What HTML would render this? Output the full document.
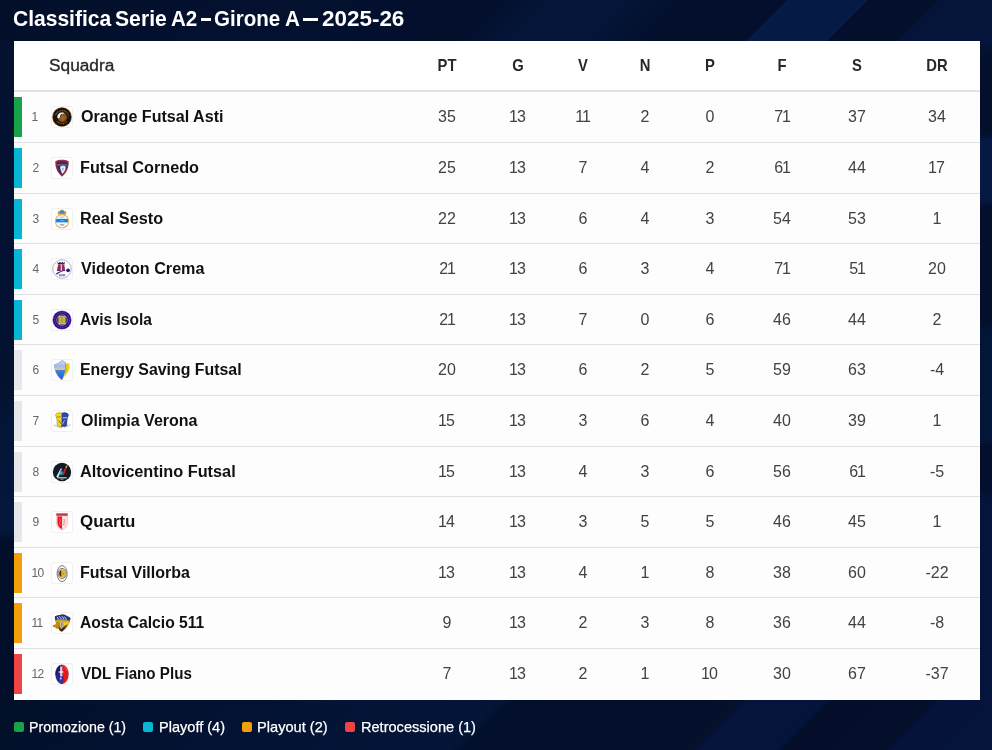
<!DOCTYPE html>
<html lang="it"><head><meta charset="utf-8"><title>Classifica Serie A2</title>
<style>
*{box-sizing:border-box;margin:0;padding:0}
html,body{width:992px;height:750px;overflow:hidden}
body{will-change:transform;position:relative;background:#030f2b;font-family:"Liberation Sans",sans-serif;color:#fff}
.bg{position:absolute;left:0;top:0;width:992px;height:750px;background:#03112e}
.bgt{position:absolute;left:0;top:0;width:992px;height:41px;background:linear-gradient(135deg,#020e27 0.00%,#03102c 7.74%,#03112f 29.04%,#030f2b 47.92%,#051538 52.76%,#051538 60.99%,#030f2b 66.80%,#030f2b 76.09%,#051a45 76.28%,#051a45 83.93%,#030f2b 84.12%,#030f2b 90.61%,#05153a 91.00%,#05153a 100.00%)}
.bgb{position:absolute;left:0;top:700px;width:992px;height:50px;background:linear-gradient(135deg,#021028 0.00%,#03112f 11.52%,#031334 28.79%,#031538 47.98%,#03102c 49.14%,#030f2b 67.18%,#04102c 71.11%,#04143a 71.88%,#04153b 79.17%,#040e2a 79.94%,#040f2c 89.73%,#05133a 90.31%,#06153c 100.00%)}
.bgr{position:absolute;left:980px;top:41px;width:12px;height:659px;background:linear-gradient(180deg,#05153a 0.00%,#04112f 1.52%,#030f2b 3.80%,#030f2b 13.98%,#051943 15.20%,#051943 24.01%,#030f2b 25.23%,#030f2b 42.55%,#04153a 44.07%,#04153a 60.49%,#030f2c 61.55%,#030f2c 68.09%,#04143a 69.30%,#04143a 100.00%)}
.bgl{position:absolute;left:0;top:41px;width:14px;height:659px;background:linear-gradient(180deg,#031231 0.00%,#031233 39.45%,#03122e 51.59%,#03163a 59.18%,#02183c 74.36%,#020f2b 75.87%,#020f2b 100.00%)}
.fx{position:absolute;display:block;white-space:nowrap;transform-origin:0 50%}
.title{position:absolute;left:0;top:7px;width:992px;height:24px;font-size:21.5px;line-height:24px;font-weight:700;color:#fff}
.tw{top:0}
.dash{position:absolute;display:block;top:11.1px;height:2.8px;background:#fff;color:transparent;overflow:hidden;font-size:1px;line-height:1px}
.table{position:absolute;left:14px;top:41px;width:966px;height:659px;background:#fdfdfd}
.thead{position:absolute;left:0;top:0;width:966px;height:51px;background:#fff;border-bottom:2px solid #e1e2e4}
.hsq{top:15px;font-size:16px;line-height:20px;color:#26282c;font-weight:400;-webkit-text-stroke:0.3px #26282c}
.h{position:absolute;top:15px;width:60px;text-align:center;font-size:17px;line-height:20px;color:#26282c;font-weight:700;transform:scaleX(0.87)}
.row{position:absolute;left:0;width:966px;border-bottom:1px solid #dfe0e2;background:#fdfdfd}
.row.last{border-bottom:none}
.bar{position:absolute;left:0;top:5px;width:8px;height:40px;display:block}
.g{background:#16a34a}.b{background:#06b6d4}.o{background:#f59e0b}.r{background:#ef4444}.n{background:#e5e7eb}
.rk{position:absolute;left:18.5px;top:18px;font-size:12px;line-height:14px;color:#666}
.lg{position:absolute;left:37px;top:14px;width:22px;height:22px;border:1px solid #f0f0f3;border-radius:3px;background:#fff;display:block}
.lg svg{display:block;width:20px;height:20px}
.nm{top:15px;font-size:16px;line-height:20px;font-weight:700;color:#111}
.v b{font-weight:inherit;margin:0 -1.1px}
.rk b{font-weight:inherit;margin:0 -.9px}
.v{position:absolute;top:15px;width:60px;text-align:center;font-size:16px;line-height:20px;color:#424242}
.legend{position:absolute;left:0;top:717px;width:992px;height:20px;font-size:15px;line-height:20px;color:#fff}
.lt{top:0;-webkit-text-stroke:.25px #fff}
.sq{position:absolute;top:5px;display:block;width:10px;height:10px;border-radius:2px}

</style></head>
<body>
<div class="bg"><div class="bgt"></div><div class="bgb"></div><div class="bgl"></div><div class="bgr"></div></div>
<h1 class="title"><span class="fx tw" id="t1" style="left:12.76px;transform:scaleX(0.9781)">Classifica</span> <span class="fx tw" id="t2" style="left:114.93px;transform:scaleX(0.9846)">Serie</span> <span class="fx tw" id="t3" style="left:170.50px;transform:scaleX(0.9566)">A2</span> <span class="dash" style="left:200.7px;width:10.3px">–</span> <span class="fx tw" id="t5" style="left:214.45px;transform:scaleX(0.9566)">Girone</span> <span class="fx tw" id="t6" style="left:284.68px;transform:scaleX(0.9612)">A</span> <span class="dash" style="left:303.3px;width:14.9px">—</span> <span class="fx tw" id="t8" style="left:321.87px;transform:scaleX(1.0437)">2025-26</span> </h1>
<div class="table">
<div class="thead"><span class="fx hsq" id="sq" style="left:34.84px;transform:scaleX(1.0802)">Squadra</span><span class="h" style="left:403px">PT</span><span class="h" style="left:474px">G</span><span class="h" style="left:539px">V</span><span class="h" style="left:601px">N</span><span class="h" style="left:666px">P</span><span class="h" style="left:738px">F</span><span class="h" style="left:813px">S</span><span class="h" style="left:893px">DR</span></div>
<div class="row" style="top:51px;height:51px"><i class="bar g"></i><span class="rk"><b>1</b></span><span class="lg"><svg viewBox="0 0 20 20"><defs><radialGradient id="o1" cx=".55" cy=".6" r=".6"><stop offset="0" stop-color="#b8661a"/><stop offset=".7" stop-color="#8a4a10"/><stop offset="1" stop-color="#3a2008"/></radialGradient></defs><circle cx="10" cy="10" r="9.800" fill="#9a5a1a"/><circle cx="10" cy="10" r="9.200" fill="#1c1209"/><path d="M3.500 8.300A6.900 6.900 0 0 1 16.400 7.800" fill="none" stroke="#8d8478" stroke-width="1.300" stroke-dasharray="1 .7" opacity=".75"/><path d="M5 14.300A6.900 6.900 0 0 0 15 14.300" fill="none" stroke="#8d8478" stroke-width="1.200" stroke-dasharray="1 .6" opacity=".8"/><circle cx="10.200" cy="10.100" r="4.900" fill="url(#o1)"/><path d="M5.300 9.900c0-2.700 2.200-4.600 4.700-4.500 1.300 0 2.300.5 3 1.200-1.500 0-2.700.6-3.500 1.700-.700 1.100-1 2.300-2.200 2.900-1.200.5-2-.2-2-1.300z" fill="#f5f2ec"/><path d="M7.600 10.400l1.300-3.100 1.900-.8-1.400 1.800-.8 2.300z" fill="#20203a"/><path d="M15.500 6.300c.9 1.600 1.100 3.500.6 5.200" fill="none" stroke="#1d2c50" stroke-width="1.200"/></svg></span><span class="fx nm" id="n1" style="left:66.51px;transform:scaleX(1.0057)">Orange Futsal Asti</span><span class="v" style="left:403px">35</span><span class="v" style="left:474px"><b>1</b>3</span><span class="v" style="left:539px"><b>1</b><b>1</b></span><span class="v" style="left:601px">2</span><span class="v" style="left:666px">0</span><span class="v" style="left:738px">7<b>1</b></span><span class="v" style="left:813px">37</span><span class="v" style="left:893px">34</span></div>
<div class="row" style="top:102px;height:51px"><i class="bar b"></i><span class="rk">2</span><span class="lg"><svg viewBox="0 0 20 20"><path d="M3.300 3.300C5.500 2.200 7.800 1.800 10 1.800s4.500.4 6.700 1.500c.3 5.600-1.600 11.300-6.700 15.400C4.900 14.600 3 8.900 3.300 3.300z" fill="#a32a3e"/><path d="M4.700 4.400c1.800-.8 3.500-1.100 5.300-1.100s3.500.3 5.300 1.100c.1 4.600-1.400 9.100-5.300 12.500C6.100 13.500 4.600 9 4.700 4.400z" fill="#2d2f66"/><path d="M5.300 6.300h9.400v1.300H5.300z" fill="#8d7fae" opacity=".8"/><path d="M8.800 8.200c1.600-.9 3.700-.6 4.800.4.300 2.300-.6 5.200-3.100 7.300-1-1-1.400-2-1.300-3.100-.7-.6-1-1.300-.8-2.200-.5-.9-.300-1.800.4-2.400z" fill="#e9ebf4"/><path d="M10.300 10.200l1.800-.6-.6 1.500-.2 1.700-1.200-.8z" fill="#9aa0c4"/></svg></span><span class="fx nm" id="n2" style="left:66.15px;transform:scaleX(1.0140)">Futsal Cornedo</span><span class="v" style="left:403px">25</span><span class="v" style="left:474px"><b>1</b>3</span><span class="v" style="left:539px">7</span><span class="v" style="left:601px">4</span><span class="v" style="left:666px">2</span><span class="v" style="left:738px">6<b>1</b></span><span class="v" style="left:813px">44</span><span class="v" style="left:893px"><b>1</b>7</span></div>
<div class="row" style="top:153px;height:50px"><i class="bar b"></i><span class="rk">3</span><span class="lg"><svg viewBox="0 0 20 20"><path d="M5.800 4.700c-.6-1.500.5-2.700 1.800-2.600.6-1 1.500-1.400 2.400-1.400s1.800.4 2.400 1.400c1.300-.1 2.400 1.100 1.800 2.600-.3.900-.9 1.400-1.400 1.700H7.200c-.5-.3-1.100-.8-1.400-1.700z" fill="#c8a04a"/><path d="M7.700 2.800c.6-.9 1.400-1.300 2.300-1.300s1.700.4 2.300 1.300c.2.700.1 1.300-.3 1.800H8c-.4-.5-.5-1.100-.3-1.800z" fill="#3f86c9"/><circle cx="10" cy="12.300" r="7.200" fill="#e2b85c"/><circle cx="10" cy="12.300" r="6.100" fill="#fdfdfb"/><path d="M4.400 10h11.200c.5 1.100.6 2.400.3 3.600H4.100c-.3-1.200-.2-2.500.3-3.600z" fill="#1d7fe3"/><path d="M4.700 9.300h10.600l.3.700H4.400z" fill="#bfe3f7"/><path d="M4.100 13.600h11.800l-.2.700H4.300z" fill="#bfe3f7"/><path d="M7.700 8.100h4.600" stroke="#c9607a" stroke-width=".6"/><path d="M7.800 15.900h4.400" stroke="#34406e" stroke-width=".7"/><path d="M8 11.700h4" stroke="#8cc4f2" stroke-width=".6"/></svg></span><span class="fx nm" id="n3" style="left:66.18px;transform:scaleX(1.0153)">Real Sesto</span><span class="v" style="left:403px">22</span><span class="v" style="left:474px"><b>1</b>3</span><span class="v" style="left:539px">6</span><span class="v" style="left:601px">4</span><span class="v" style="left:666px">3</span><span class="v" style="left:738px">54</span><span class="v" style="left:813px">53</span><span class="v" style="left:893px"><b>1</b></span></div>
<div class="row" style="top:203px;height:51px"><i class="bar b"></i><span class="rk">4</span><span class="lg"><svg viewBox="0 0 20 20"><circle cx="10" cy="10" r="9.300" fill="#fdfdff" stroke="#9496a6" stroke-width=".7"/><path d="M5.300 2.900l1.400 1 1.100-1.100 1.300 1.100 1.200-1.100 1.200 1.100 1.400-1.100-.5 2.800H5.900z" fill="#26276e"/><path d="M6.200 5.500h6l.9 6.500H4.800z" fill="#d8344c"/><path d="M6 6.900h6.400M5.700 8.500h7M5.400 10.100h7.500M5.100 11.600h8" stroke="#2a2c7a" stroke-width=".75"/><path d="M8.800 5.500h1v6.500h-1z" fill="#f4f4fa"/><path d="M3.900 14.700c2.600-2.300 6.600-3.600 10.800-3.400-3.400.4-7.100 2-10 4.400z" fill="#2a2c7a"/><circle cx="16.100" cy="11.300" r="1.900" fill="#1f2670"/><path d="M6.900 14.900h6.400v2.600H6.900z" fill="#c4c6e2"/><path d="M7.600 15.300v1.800M8.900 15.300v1.800M10.200 15.300v1.800M11.500 15.300v1.800M12.600 15.300v1.800" stroke="#4a4c8c" stroke-width=".55"/></svg></span><span class="fx nm" id="n4" style="left:67.07px;transform:scaleX(1.0084)">Videoton Crema</span><span class="v" style="left:403px">2<b>1</b></span><span class="v" style="left:474px"><b>1</b>3</span><span class="v" style="left:539px">6</span><span class="v" style="left:601px">3</span><span class="v" style="left:666px">4</span><span class="v" style="left:738px">7<b>1</b></span><span class="v" style="left:813px">5<b>1</b></span><span class="v" style="left:893px">20</span></div>
<div class="row" style="top:254px;height:50px"><i class="bar b"></i><span class="rk">5</span><span class="lg"><svg viewBox="0 0 20 20"><circle cx="10" cy="10" r="9.600" fill="#8a7ae0"/><circle cx="10" cy="10" r="9.100" fill="#2a0b80"/><circle cx="10" cy="10" r="7.300" fill="none" stroke="#8f7fd0" stroke-width=".8" stroke-dasharray=".9 .9"/><ellipse cx="10" cy="10.100" rx="5.300" ry="5.300" fill="#2a0b80" stroke="#d9c66e" stroke-width=".6"/><path d="M6.500 6.300h7v7.800h-7z" fill="#ebdc62"/><path d="M7.800 6.100v8.200M9.100 6.100v8.200M10.900 6.100v8.200M12.200 6.100v8.200" stroke="#6a5a22" stroke-width=".5"/><path d="M9.100 8h1.800M9.100 10h1.800M9.100 12h1.800" stroke="#6a5a22" stroke-width=".55"/><path d="M6.500 6.300h7M6.500 14.100h7" stroke="#fff7a8" stroke-width=".4"/></svg></span><span class="fx nm" id="n5" style="left:66.06px;transform:scaleX(0.9708)">Avis Isola</span><span class="v" style="left:403px">2<b>1</b></span><span class="v" style="left:474px"><b>1</b>3</span><span class="v" style="left:539px">7</span><span class="v" style="left:601px">0</span><span class="v" style="left:666px">6</span><span class="v" style="left:738px">46</span><span class="v" style="left:813px">44</span><span class="v" style="left:893px">2</span></div>
<div class="row" style="top:304px;height:51px"><i class="bar n"></i><span class="rk">6</span><span class="lg"><svg viewBox="0 0 20 20"><defs><linearGradient id="e6" x1="0" y1="0" x2="0" y2="1"><stop offset="0" stop-color="#d3def6"/><stop offset=".36" stop-color="#9fb6e6"/><stop offset=".54" stop-color="#3f7fdf"/><stop offset="1" stop-color="#1a5fd6"/></linearGradient></defs><path d="M12.800 2.900c1.600.5 3 .6 4.900.2-.4 1.700-.4 2.900.3 4.300-.6 1.500-1.400 2.800-1.800 4.400-1 1.900-2.300 3.700-3.900 5.400l.5-4.700z" fill="#f6da1e"/><path d="M13.400 3.900l2.500.4-.5 3.300.8 1.700-1.800 3.300-1.900 4.200z" fill="#dcb410" opacity=".65"/><path d="M10.300.1c1 1.100 2 1.900 3.100 2.500.4 3.900 0 7-.6 9.400-.7 2.700-1.500 5.300-2.700 7.800C5.800 17 2.700 11.300 2.400 4.700 5.500 4.100 8.300 2.400 10.300.1z" fill="url(#e6)" stroke="#5a67a4" stroke-width=".45"/><path d="M2.600 7h10.600l-.2 3H3.200z" fill="#b4b7c0"/><path d="M2.800 8h10.300M3 9.200h10" stroke="#efe48c" stroke-width=".55"/></svg></span><span class="fx nm" id="n6" style="left:66.16px;transform:scaleX(0.9931)">Energy Saving Futsal</span><span class="v" style="left:403px">20</span><span class="v" style="left:474px"><b>1</b>3</span><span class="v" style="left:539px">6</span><span class="v" style="left:601px">2</span><span class="v" style="left:666px">5</span><span class="v" style="left:738px">59</span><span class="v" style="left:813px">63</span><span class="v" style="left:893px">-4</span></div>
<div class="row" style="top:355px;height:51px"><i class="bar n"></i><span class="rk">7</span><span class="lg"><svg viewBox="0 0 20 20"><path d="M1.300 14.300c2.300 1.900 5.400 2.600 8.700 2.600s6.400-.7 8.700-2.600l-.5-1.400c-2.300 1.500-5.200 2.200-8.200 2.200s-5.900-.7-8.200-2.200z" fill="#d4d4da"/><path d="M3.500 3.600c.6-1 1.500-1.600 2.300-1.500.6-.7 1.600-.8 2.300-.3.700-.3 1.500-.1 1.900.4v13.900c-1.500-.1-3.400-.7-4.900-1.700.2-3-.1-5.400-.5-7.400-.4-1.100-.9-2.200-1.100-3.400z" fill="#f1da16" stroke="#8a7f1a" stroke-width=".5"/><path d="M16.500 3.600c-.6-1-1.500-1.600-2.300-1.500-.6-.7-1.600-.8-2.300-.3-.7-.3-1.500-.1-1.900.4v13.900c1.500-.1 3.400-.7 4.900-1.700-.2-3 .1-5.400.5-7.400.4-1.100.9-2.200 1.100-3.400z" fill="#2c46b4" stroke="#1c2c7c" stroke-width=".5"/><path d="M4.600 5.400h4.900v1.100H4.600z" fill="#a8961a"/><path d="M10.500 6.300h4.600v1H10.500z" fill="#c8cce0"/><path d="M6.700 9.500l2.800 3.700.5 2.900" fill="none" stroke="#5a4a14" stroke-width=".8"/><path d="M12.500 9.300l-2.200 4.200" fill="none" stroke="#e8d9b0" stroke-width=".8"/><path d="M9.200 15.500c.6.500 1.900.6 3 .1l-.6 1.300H9.700z" fill="#fff"/><path d="M8.600 15.700l1.100 1.700" stroke="#a07c48" stroke-width=".6"/></svg></span><span class="fx nm" id="n7" style="left:66.62px;transform:scaleX(0.9997)">Olimpia Verona</span><span class="v" style="left:403px"><b>1</b>5</span><span class="v" style="left:474px"><b>1</b>3</span><span class="v" style="left:539px">3</span><span class="v" style="left:601px">6</span><span class="v" style="left:666px">4</span><span class="v" style="left:738px">40</span><span class="v" style="left:813px">39</span><span class="v" style="left:893px"><b>1</b></span></div>
<div class="row" style="top:406px;height:50px"><i class="bar n"></i><span class="rk">8</span><span class="lg"><svg viewBox="0 0 20 20"><circle cx="10" cy="10" r="9.200" fill="#0f1a22"/><path d="M8.600 6.600l1.400 0-3.600 8.300-2.200 0z" fill="#d9ecf6"/><path d="M8.800 6.800l2.300 4.400-2.600 1.300-1.700 1.200z" fill="#4aa6d2"/><path d="M10.300 11.700l3.600-7.800 1.700-.6-3.100 8.700z" fill="#d21f1f"/><path d="M13.600 4.300l2-1.100-.9 3.300z" fill="#e8b23a"/><path d="M8.400 12.400l3.500-.600-.3 1-3.600.5z" fill="#2f9a8a"/><path d="M8.700 8.100l1.300 2.500 1.100-2.300z" fill="#5a2a7a"/><path d="M5 15.300h9.700v1H5z" fill="#e9eef2"/><path d="M8.500 16.800h3v.7h-3z" fill="#cfd6dc"/></svg></span><span class="fx nm" id="n8" style="left:65.87px;transform:scaleX(1.0182)">Altovicentino Futsal</span><span class="v" style="left:403px"><b>1</b>5</span><span class="v" style="left:474px"><b>1</b>3</span><span class="v" style="left:539px">4</span><span class="v" style="left:601px">3</span><span class="v" style="left:666px">6</span><span class="v" style="left:738px">56</span><span class="v" style="left:813px">6<b>1</b></span><span class="v" style="left:893px">-5</span></div>
<div class="row" style="top:456px;height:51px"><i class="bar n"></i><span class="rk">9</span><span class="lg"><svg viewBox="0 0 20 20"><path d="M3.800.9h12.400v9.600c0 3.900-2.700 6.900-6.200 8.300-3.500-1.400-6.200-4.400-6.200-8.300z" fill="#f9d3d6"/><path d="M4.300 1.300h11.400v2.600H4.300z" fill="#d9485c"/><path d="M5 2h10v1.100H5z" fill="#b8223c" opacity=".55"/><path d="M5.500 4.600H10v12.600C7.300 16 5.500 13.500 5.500 10.600z" fill="#e4121e"/><path d="M10 4.600h4.500v6c0 2.900-1.800 5.400-4.500 6.600z" fill="#fae3e1"/><path d="M7.400 6.100l.9 2.900-.8 2.100 1.100 2.300" fill="none" stroke="#f3a6a6" stroke-width=".7"/><path d="M11.500 7.700l1.600.6M11.300 10l1.700.4M11.200 12.400l1.400.3" stroke="#e4525e" stroke-width=".9"/><path d="M10 4.600v12.600" stroke="#e88a8a" stroke-width=".4"/></svg></span><span class="fx nm" id="n9" style="left:65.81px;transform:scaleX(1.0571)">Quartu</span><span class="v" style="left:403px"><b>1</b>4</span><span class="v" style="left:474px"><b>1</b>3</span><span class="v" style="left:539px">3</span><span class="v" style="left:601px">5</span><span class="v" style="left:666px">5</span><span class="v" style="left:738px">46</span><span class="v" style="left:813px">45</span><span class="v" style="left:893px"><b>1</b></span></div>
<div class="row" style="top:507px;height:50px"><i class="bar o"></i><span class="rk"><b>1</b>0</span><span class="lg"><svg viewBox="0 0 20 20"><ellipse cx="10.100" cy="10.600" rx="5.700" ry="8.500" fill="#fbf7d8"/><ellipse cx="10.100" cy="10.600" rx="5" ry="8" fill="#fdfdfb" stroke="#5a5a5a" stroke-width=".8"/><ellipse cx="10.100" cy="10.500" rx="4" ry="5.100" fill="#fff" stroke="#5c5c5c" stroke-width=".85"/><ellipse cx="10.200" cy="10.500" rx="3.400" ry="4.300" fill="#a9a6c0"/><ellipse cx="10.500" cy="10.600" rx="2.900" ry="3.600" fill="#e9b81c"/><path d="M9.200 7.300c-1.400.6-1.900 1.900-1.900 3.300s.6 2.600 1.900 3.200z" fill="#3a2c1a"/><path d="M9.900 8.200v4.800" stroke="#b98a12" stroke-width=".6"/><path d="M10.700 9.400l1.500 1.200-1.500 1.200z" fill="#c48a10"/></svg></span><span class="fx nm" id="n10" style="left:66.15px;transform:scaleX(0.9995)">Futsal Villorba</span><span class="v" style="left:403px"><b>1</b>3</span><span class="v" style="left:474px"><b>1</b>3</span><span class="v" style="left:539px">4</span><span class="v" style="left:601px"><b>1</b></span><span class="v" style="left:666px">8</span><span class="v" style="left:738px">38</span><span class="v" style="left:813px">60</span><span class="v" style="left:893px">-22</span></div>
<div class="row" style="top:557px;height:51px"><i class="bar o"></i><span class="rk"><b>1</b><b>1</b></span><span class="lg"><svg viewBox="0 0 20 20"><path d="M2.900 3.300c3-1.300 6.400-1.800 9.200-1.800l6.300 3.300c.1 4-1.800 8.100-4.300 10.700-1.300 1.400-3 2.600-4.300 3.300C4.900 16 2.800 10 2.900 3.300z" fill="#d7a61e"/><path d="M2.900 3.300c3-1.300 6.400-1.800 9.200-1.800l6.300 3.300c0 1.200-.2 2.200-.5 3.200-4.800-1.500-9.900-1.800-14.800-.8-.2-1.300-.3-2.600-.2-3.900z" fill="#22358a"/><path d="M5.200 3.900l1.300 2.600M7.400 3.400l1.900 2.700M9.900 3.200l2.100 2.900M12.400 3.600l2.200 3" stroke="#e9edf8" stroke-width=".9"/><path d="M3 7.300c4.900-1 10.100-.7 14.900.8" fill="none" stroke="#8e9a3a" stroke-width=".9"/><path d="M.5 12.600l2.700-1.400 2.400.6 1.800 2.400-2.500 1.700-2.100-1.700-1.600-.3z" fill="#c4861a"/><path d="M4.200 8.800l3.600.4.300 4.100-2.200 2.300-1.400-3.400z" fill="#b98a1e"/><path d="M8.600 8.900h2.600v5.100H8.600z" fill="#e4e2ea"/><path d="M9.500 9.300h.9v4.400h-.9z" fill="#4a3236"/><path d="M11.800 9.600l4.400-.6.300 1.500-1.600 2.100-2.700 1.200z" fill="#f0cb2e"/><path d="M12.600 12.700l2.900-1.500-1.600 3.200-2.500 2.500z" fill="#5a4020"/><path d="M6.400 14.800l3.300 1.300 2.300-2.500.9 1.300-1.700 2.500-1.500 1.300-2-1.200z" fill="#3a2420"/><path d="M6.200 13.300l2.200.4-.6 1.500z" fill="#7a4a18"/></svg></span><span class="fx nm" id="n11" style="left:66.04px;transform:scaleX(0.9771)">Aosta Calcio 511</span><span class="v" style="left:403px">9</span><span class="v" style="left:474px"><b>1</b>3</span><span class="v" style="left:539px">2</span><span class="v" style="left:601px">3</span><span class="v" style="left:666px">8</span><span class="v" style="left:738px">36</span><span class="v" style="left:813px">44</span><span class="v" style="left:893px">-8</span></div>
<div class="row last" style="top:608px;height:51px"><i class="bar r"></i><span class="rk"><b>1</b>2</span><span class="lg"><svg viewBox="0 0 20 20"><defs><clipPath id="c12"><ellipse cx="10" cy="10.300" rx="6.500" ry="9.600"/></clipPath></defs><g clip-path="url(#c12)"><rect x="3" y="0" width="7.300" height="20" fill="#24248c"/><path d="M3 0h5v7L3 12z" fill="#1a1a66"/><rect x="10.300" y="0" width="7.500" height="20" fill="#e31a1a"/><path d="M8.900 12.300c1.700-.6 2.700-.3 2.900.8.200 1.300-.5 2.500-1 3.800L10.300 20H6l1.500-5.100z" fill="#3434b0"/><path d="M10 16l1.600-1.900-.3 3.500-1 2.400H9z" fill="#5a2450"/><path d="M8.300 2.400h1.500v9.400l-.75 1.300-.75-1.300z" fill="#fff"/><path d="M6.500 7.400h5v1.200h-5z" fill="#fff"/><circle cx="8.700" cy="14.400" r="1" fill="#c4caff"/><path d="M12.300 3.200c1.300.7 2.300 2.100 2.700 3.500" stroke="#ff7a6a" stroke-width="1" fill="none" opacity=".7"/></g><ellipse cx="10" cy="10.300" rx="6.500" ry="9.600" fill="none" stroke="#5a2048" stroke-width=".5" opacity=".6"/></svg></span><span class="fx nm" id="n12" style="left:67.14px;transform:scaleX(0.9467)">VDL Fiano Plus</span><span class="v" style="left:403px">7</span><span class="v" style="left:474px"><b>1</b>3</span><span class="v" style="left:539px">2</span><span class="v" style="left:601px"><b>1</b></span><span class="v" style="left:666px"><b>1</b>0</span><span class="v" style="left:738px">30</span><span class="v" style="left:813px">67</span><span class="v" style="left:893px">-37</span></div>
</div>
<div class="legend"><i class="sq g" style="left:14px"></i><span class="fx lt" id="l1" style="left:29.07px;transform:scaleX(0.9469)">Promozione (1)</span><i class="sq b" style="left:143px"></i><span class="fx lt" id="l2" style="left:159.01px;transform:scaleX(0.9702)">Playoff (4)</span><i class="sq o" style="left:242px"></i><span class="fx lt" id="l3" style="left:257.03px;transform:scaleX(0.9746)">Playout (2)</span><i class="sq r" style="left:345px"></i><span class="fx lt" id="l4" style="left:361.03px;transform:scaleX(0.9708)">Retrocessione (1)</span></div>
</body></html>
